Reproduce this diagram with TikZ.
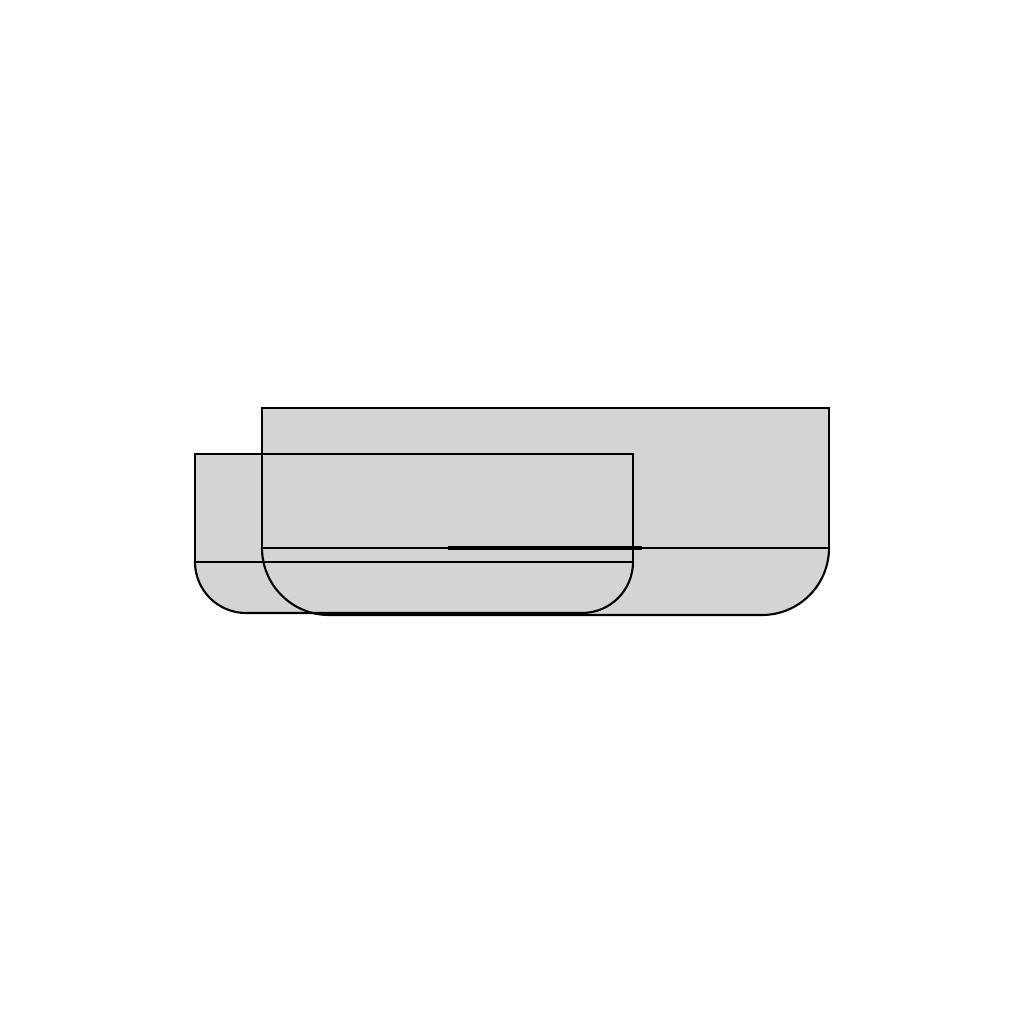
\documentclass[tikz,border=0pt]{standalone}
\definecolor{boxgray}{RGB}{212,212,212}

\begin{document}
\begin{tikzpicture}[x=1cm,y=1cm,line width=0.6pt]
  \useasboundingbox (0,0) rectangle (10.24,10.24);

  % Fills
  \fill[boxgray] (2.62,6.16) -- (8.29,6.16) -- (8.29,4.76)
    arc[start angle=0,end angle=-90,radius=0.67] -- (3.29,4.09)
    arc[start angle=270,end angle=180,radius=0.67] -- cycle;
  \fill[boxgray] (1.95,5.70) -- (6.33,5.70) -- (6.33,4.62)
    arc[start angle=0,end angle=-90,radius=0.51] -- (2.46,4.11)
    arc[start angle=270,end angle=180,radius=0.51] -- cycle;

  % Large outline
  \draw (2.62,4.76) rectangle (8.29,6.16);
  \draw (8.29,4.76) arc[start angle=0,end angle=-90,radius=0.67] -- (3.29,4.09)
    arc[start angle=270,end angle=180,radius=0.67];

  % Small outline
  \draw (1.95,4.62) rectangle (6.33,5.70);
  \draw (6.33,4.62) arc[start angle=0,end angle=-90,radius=0.51] -- (2.46,4.11)
    arc[start angle=270,end angle=180,radius=0.51];

  % Overdrawn piece of the divider
  \draw[line width=0.9pt] (4.48,4.76) -- (6.42,4.76);
\end{tikzpicture}
\end{document}
